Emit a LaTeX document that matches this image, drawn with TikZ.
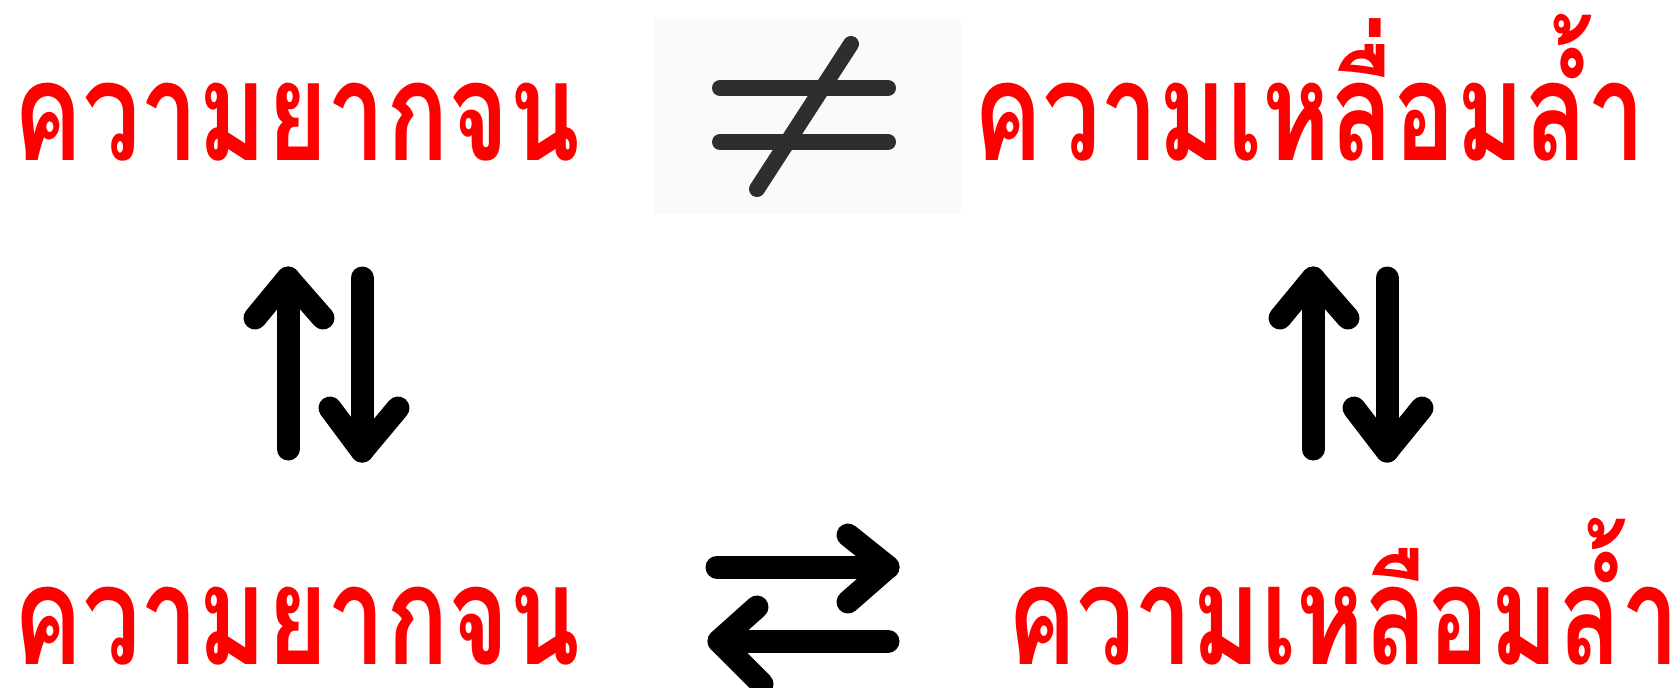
\documentclass[tikz,border=0pt]{standalone}
\usepackage{fontspec}
\usepackage{graphicx}
\newfontfamily\thaifont[Script=Thai]{Loma}
\usetikzlibrary{positioning}
\definecolor{thaired}{HTML}{FF0000}
\definecolor{photobg}{HTML}{FAFAFA}
\newcommand{\thaisqueeze}[1]{\scalebox{0.75}[1]{#1}}
\tikzset{
	thaitext/.style={
			font=\thaifont\bfseries\fontsize{69}{75}\selectfont,
			text=thaired,
			text depth=0pt,
			inner sep=0pt,
			anchor=base west
		},
	arrowline/.style={
			line width=11.5pt,
			line cap=round,
			line join=round,
			draw=black
		},
	neqline/.style={
			line width=8pt,
			line cap=round,
			draw=black!82
		}
}

\begin{document}
\begin{tikzpicture}[x=0.5pt, y=-0.5pt]
				\useasboundingbox (0,0) rectangle (1675,687);

				\node[thaitext] (poortop) at (13,160) {\thaisqueeze{ความยากจน}};
				\node[thaitext] (gaptop) at (973,160) {\thaisqueeze{ความเหลื่อมล้ำ}};
				\node[thaitext] (poorbot) at (13,664) {\thaisqueeze{ความยากจน}};
				\node[thaitext] (gapbot) at (1007,664) {\thaisqueeze{ความเหลือมล้ำ}};

				% not equal sign
				\fill[photobg] (654,19) rectangle (961,214);
				\draw[neqline] (720,88) -- (888,88);
				\draw[neqline] (720,142) -- (888,142);
				\draw[neqline] (851,44) -- (757,189);

				% left pair
				\coordinate (lupa) at (288,449);
				\coordinate (lupb) at (288,278);
				\coordinate (ldowna) at (362,278);
				\coordinate (ldownb) at (362,451);
				\draw[arrowline] (lupa) -- (lupb);
				\draw[arrowline] (255,318) -- (lupb) -- (323,318);
				\draw[arrowline] (ldowna) -- (ldownb);
				\draw[arrowline] (330,408) -- (ldownb) -- (398,408);

				% right pair
				\coordinate (rupa) at (1313,449);
				\coordinate (rupb) at (1313,278);
				\coordinate (rdowna) at (1387,278);
				\coordinate (rdownb) at (1387,451);
				\draw[arrowline] (rupa) -- (rupb);
				\draw[arrowline] (1280,318) -- (rupb) -- (1348,318);
				\draw[arrowline] (rdowna) -- (rdownb);
				\draw[arrowline] (1354,408) -- (rdownb) -- (1422,408);

				% bottom pair
				\coordinate (bra) at (717,567);
				\coordinate (brb) at (888,567);
				\coordinate (bla) at (888,641);
				\coordinate (blb) at (719,641);
				\draw[arrowline] (bra) -- (brb);
				\draw[arrowline] (848,535) -- (brb) -- (848,602);
				\draw[arrowline] (bla) -- (blb);
				\draw[arrowline] (757,607) -- (blb) -- (762,684);

\end{tikzpicture}
\end{document}
